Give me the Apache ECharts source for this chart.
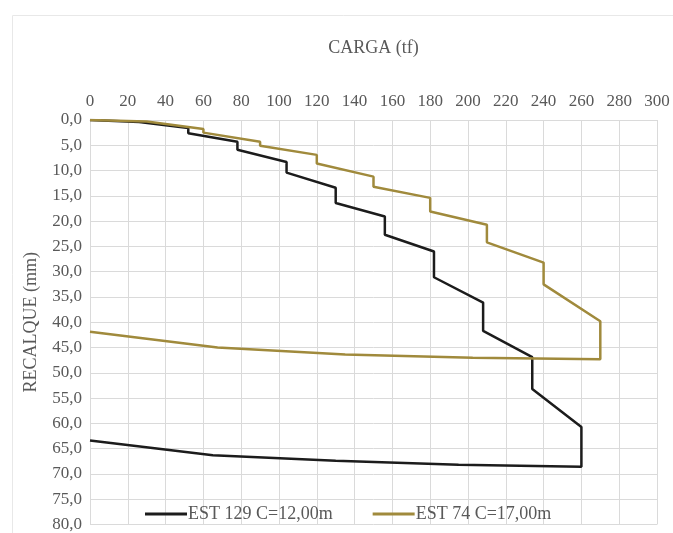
<!DOCTYPE html>
<html>
<head>
<meta charset="utf-8">
<script src="https://cdn.jsdelivr.net/npm/echarts@6/dist/echarts.min.js"></script>
<style>
  html, body { margin: 0; padding: 0; background: #fff; }
  #chart { width: 673px; height: 533px; }
</style>
</head>
<body>
<div id="chart"></div>
<script>
// EST 129 C=12,00m - carga (tf) x recalque (mm)
const est129Carga = [0, 26, 26, 52, 52, 78, 78, 104, 104, 130, 130, 156, 156, 182, 182, 208, 208, 234, 234, 260, 260, 195, 130, 65, 0]
const est129Recalque = [0, 0.4, 0.6, 1.6, 2.6, 4.3, 5.9, 8.3, 10.4, 13.4, 16.4, 19.1, 22.7, 26.0, 31.1, 36.1, 41.7, 46.9, 53.2, 60.7, 68.6, 68.2, 67.4, 66.3, 63.4]

// EST 74 C=17,00m
const est74Carga = [0, 30, 30, 60, 60, 90, 90, 120, 120, 150, 150, 180, 180, 210, 210, 240, 240, 270, 270, 202.5, 135, 67.5, 0]
const est74Recalque = [0, 0.3, 0.5, 1.8, 2.5, 4.3, 5.1, 6.9, 8.6, 11.2, 13.2, 15.4, 18.1, 20.7, 24.2, 28.2, 32.5, 39.8, 47.3, 47.0, 46.4, 45.0, 41.9]

const seriesNames = ['EST 129 C=12,00m', 'EST 74 C=17,00m']
const seriesColors = ['#1c1c1c', '#a08a3c']

const pairs = (xs, ys) => xs.map((x, i) => [x, ys[i]])
const font = 'Liberation Serif'
const gridColor = '#dadada'

const chart = echarts.init(document.getElementById('chart'))
chart.setOption({
  animation: false,
  textStyle: { fontFamily: font },
  graphic: [{
    type: 'rect',
    shape: { x: 12.5, y: 15.5, width: 700, height: 600 },
    style: { fill: 'none', stroke: '#e8e8e8', lineWidth: 1 },
    silent: true
  }],
  grid: { left: 90, right: 16, top: 120, bottom: 8 },
  xAxis: {
    type: 'value',
    position: 'top',
    min: 0,
    max: 300,
    interval: 20,
    name: 'CARGA (tf)',
    nameLocation: 'middle',
    nameGap: 63,
    nameTextStyle: { fontFamily: font, fontSize: 18, color: '#595959' },
    axisLine: { show: true, lineStyle: { color: gridColor } },
    axisTick: { show: false },
    axisLabel: { fontFamily: font, fontSize: 17, color: '#595959', margin: 10 },
    splitLine: { show: true, lineStyle: { color: gridColor } }
  },
  yAxis: {
    type: 'value',
    inverse: true,
    min: 0,
    max: 80,
    interval: 5,
    name: 'RECALQUE (mm)',
    nameLocation: 'middle',
    nameGap: 50,
    nameRotate: 90,
    nameTextStyle: { fontFamily: font, fontSize: 18, color: '#595959' },
    axisLine: { show: true, lineStyle: { color: gridColor } },
    axisTick: { show: false },
    axisLabel: {
      fontFamily: font,
      fontSize: 17,
      color: '#595959',
      margin: 8,
      formatter: v => v.toFixed(1).replace('.', ',')
    },
    splitLine: { show: true, lineStyle: { color: gridColor } }
  },
  legend: {
    top: 500,
    left: 140,
    itemWidth: 42,
    itemHeight: 3,
    itemGap: 40,
    icon: 'rect',
    textStyle: { fontFamily: font, fontSize: 18, color: '#595959', padding: [0, 0, 0, -4] },
    data: seriesNames
  },
  series: [
    {
      name: seriesNames[0],
      type: 'line',
      data: pairs(est129Carga, est129Recalque),
      symbol: 'none',
      color: seriesColors[0],
      lineStyle: { color: seriesColors[0], width: 2.5 }
    },
    {
      name: seriesNames[1],
      type: 'line',
      data: pairs(est74Carga, est74Recalque),
      symbol: 'none',
      color: seriesColors[1],
      lineStyle: { color: seriesColors[1], width: 2.5 }
    }
  ]
})
</script>
</body>
</html>
